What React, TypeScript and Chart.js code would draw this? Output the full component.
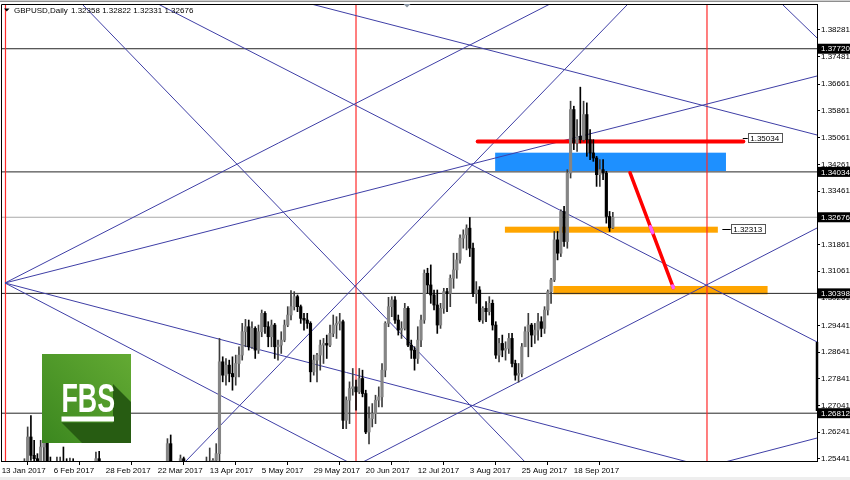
import React, { useEffect, useRef } from 'react';
import { Chart, registerables } from 'chart.js';

Chart.register(...registerables);

const FONT = '"Liberation Sans", Arial, sans-serif';
const symbolLabel = 'GBPUSD,Daily';
const brandLabel = 'FBS';

const xTickIndex = [0, 16, 32, 48, 64, 80, 96, 112, 128, 144, 160, 176];
const xTickLabels = ['13 Jan 2017', '6 Feb 2017', '28 Feb 2017', '22 Mar 2017', '13 Apr 2017', '5 May 2017', '29 May 2017', '20 Jun 2017', '12 Jul 2017', '3 Aug 2017', '25 Aug 2017', '18 Sep 2017'];
const yTickValues = [1.38281, 1.37481, 1.36661, 1.35861, 1.35061, 1.34261, 1.33461, 1.32661, 1.31861, 1.31061, 1.30261, 1.29441, 1.28641, 1.27841, 1.27041, 1.26241, 1.25441];

const priceMin = 1.25381;
const priceMax = 1.39059;
const barMin = -0.2;
const barMax = 250.8;

const opens = [1.2165,1.2080,1.2055,1.2398,1.2340,1.2335,1.2372,1.2455,1.2495,1.2610,1.2555,1.2545,1.2440,1.2580,1.2615,1.2505,1.2475,1.2420,1.2475,1.2530,1.2525,1.2485,1.2530,1.2465,1.2460,1.2505,1.2410,1.2435,1.2460,1.2450,1.2545,1.2475,1.2410,1.2390,1.2290,1.2270,1.2290,1.2240,1.2200,1.2170,1.2160,1.2185,1.2220,1.2130,1.2270,1.2350,1.2400,1.2370,1.2470,1.2480,1.2520,1.2465,1.2590,1.2460,1.2420,1.2460,1.2545,1.2475,1.2420,1.2490,1.2475,1.2400,1.2410,1.2460,1.2530,1.2535,1.2540,1.2560,1.2835,1.2795,1.2825,1.2800,1.2790,1.2830,1.2855,1.2925,1.2940,1.2880,1.2935,1.2870,1.2925,1.2980,1.2940,1.2910,1.2945,1.2880,1.2885,1.2900,1.2945,1.2975,1.3000,1.3030,1.3000,1.2965,1.2960,1.2950,1.2805,1.2840,1.2855,1.2885,1.2890,1.2885,1.2920,1.2945,1.2950,1.2955,1.2660,1.2720,1.2755,1.2760,1.2745,1.2785,1.2740,1.2625,1.2665,1.2680,1.2720,1.2730,1.2810,1.2950,1.3000,1.3020,1.2960,1.2930,1.2935,1.2995,1.2885,1.2870,1.2845,1.2900,1.2960,1.3100,1.3065,1.3035,1.3005,1.2945,1.2995,1.3045,1.3040,1.3085,1.3110,1.3140,1.3205,1.3215,1.3235,1.3175,1.3040,1.3050,1.2960,1.2995,1.2985,1.3010,1.2945,1.2855,1.2890,1.2870,1.2875,1.2905,1.2830,1.2795,1.2800,1.2880,1.2925,1.2945,1.2915,1.2930,1.2955,1.2935,1.2990,1.3045,1.3080,1.3200,1.3160,1.3285,1.3195,1.3400,1.3590,1.3490,1.3510,1.3500,1.3575,1.3500,1.3460,1.3445,1.3395,1.3410,1.3400,1.3270,1.32358];
const highs = [1.2232,1.2110,1.2415,1.2417,1.2370,1.2390,1.2480,1.2545,1.2640,1.2674,1.2600,1.2560,1.2600,1.2640,1.2706,1.2550,1.2495,1.2550,1.2550,1.2580,1.2545,1.2547,1.2545,1.2490,1.2535,1.2515,1.2470,1.2495,1.2490,1.2565,1.2567,1.2490,1.2420,1.2405,1.2315,1.2300,1.2300,1.2260,1.2215,1.2200,1.2200,1.2260,1.2225,1.2280,1.2380,1.2410,1.2410,1.2480,1.2510,1.2530,1.2525,1.2605,1.2616,1.2480,1.2485,1.2556,1.2550,1.2490,1.2510,1.2510,1.2480,1.2430,1.2480,1.2550,1.2577,1.2545,1.2590,1.2905,1.2850,1.2845,1.2840,1.2850,1.2855,1.2880,1.2950,1.2962,1.2960,1.2955,1.2940,1.2945,1.2990,1.2985,1.2955,1.2960,1.2950,1.2900,1.2925,1.2960,1.3000,1.3048,1.3045,1.3035,1.3005,1.2980,1.2980,1.2955,1.2855,1.2860,1.2900,1.2905,1.2915,1.2945,1.2975,1.2970,1.2980,1.2960,1.2730,1.2775,1.2815,1.2780,1.2815,1.2810,1.2750,1.2700,1.2710,1.2735,1.2760,1.2830,1.2955,1.3028,1.3030,1.3030,1.2975,1.2955,1.3010,1.3000,1.2900,1.2880,1.2940,1.2975,1.3110,1.3115,1.3125,1.3050,1.3050,1.3010,1.3055,1.3055,1.3095,1.3160,1.3160,1.3215,1.3230,1.3245,1.3267,1.3190,1.3075,1.3060,1.3000,1.3015,1.3030,1.3020,1.2955,1.2905,1.2915,1.2895,1.2920,1.2920,1.2840,1.2830,1.2890,1.2940,1.2980,1.2950,1.2950,1.2980,1.2970,1.3000,1.3050,1.3085,1.3225,1.3225,1.3290,1.3300,1.3410,1.3615,1.3600,1.3560,1.3657,1.3615,1.3610,1.3530,1.3500,1.3450,1.3440,1.3440,1.3405,1.3285,1.32822];
const lows = [1.2130,1.1986,1.2040,1.2255,1.2250,1.2285,1.2355,1.2390,1.2480,1.2540,1.2490,1.2415,1.2430,1.2520,1.2490,1.2440,1.2380,1.2345,1.2470,1.2480,1.2435,1.2470,1.2425,1.2385,1.2455,1.2385,1.2400,1.2430,1.2410,1.2440,1.2460,1.2380,1.2345,1.2280,1.2250,1.2250,1.2215,1.2180,1.2150,1.2110,1.2130,1.2180,1.2110,1.2110,1.2260,1.2330,1.2340,1.2360,1.2440,1.2460,1.2450,1.2460,1.2430,1.2380,1.2410,1.2460,1.2460,1.2380,1.2410,1.2455,1.2365,1.2375,1.2380,1.2440,1.2490,1.2520,1.2515,1.2515,1.2775,1.2765,1.2775,1.2750,1.2765,1.2790,1.2840,1.2880,1.2870,1.2875,1.2845,1.2860,1.2910,1.2920,1.2880,1.2880,1.2845,1.2840,1.2860,1.2895,1.2940,1.2960,1.2990,1.2985,1.2950,1.2930,1.2935,1.2775,1.2795,1.2775,1.2810,1.2830,1.2845,1.2880,1.2910,1.2905,1.2930,1.2635,1.2635,1.2650,1.2735,1.2690,1.2740,1.2730,1.2620,1.2589,1.2640,1.2650,1.2700,1.2700,1.2790,1.2940,1.2970,1.2950,1.2915,1.2905,1.2930,1.2880,1.2845,1.2810,1.2830,1.2880,1.2950,1.3040,1.3010,1.2990,1.2920,1.2935,1.2980,1.2985,1.3000,1.3055,1.3085,1.3130,1.3175,1.3170,1.3150,1.3030,1.3010,1.2955,1.2950,1.2955,1.2975,1.2930,1.2845,1.2835,1.2850,1.2840,1.2860,1.2820,1.2780,1.2774,1.2790,1.2880,1.2850,1.2880,1.2890,1.2900,1.2910,1.2920,1.2975,1.3010,1.3075,1.3140,1.3150,1.3180,1.3175,1.3385,1.3470,1.3465,1.3490,1.3495,1.3450,1.3440,1.3435,1.3360,1.3360,1.3380,1.3250,1.3225,1.32331];
const closes = [1.2180,1.2055,1.2398,1.2340,1.2335,1.2372,1.2455,1.2495,1.2610,1.2555,1.2545,1.2440,1.2580,1.2615,1.2505,1.2475,1.2420,1.2475,1.2530,1.2525,1.2485,1.2530,1.2465,1.2460,1.2505,1.2410,1.2435,1.2460,1.2450,1.2545,1.2475,1.2410,1.2390,1.2290,1.2270,1.2290,1.2240,1.2200,1.2170,1.2160,1.2185,1.2220,1.2130,1.2270,1.2350,1.2400,1.2370,1.2470,1.2480,1.2520,1.2465,1.2590,1.2460,1.2420,1.2460,1.2545,1.2475,1.2420,1.2490,1.2475,1.2400,1.2410,1.2460,1.2530,1.2535,1.2540,1.2560,1.2835,1.2795,1.2825,1.2800,1.2790,1.2830,1.2855,1.2925,1.2940,1.2880,1.2935,1.2870,1.2925,1.2980,1.2940,1.2910,1.2945,1.2880,1.2885,1.2900,1.2945,1.2975,1.3000,1.3030,1.3000,1.2965,1.2960,1.2950,1.2805,1.2840,1.2855,1.2885,1.2890,1.2885,1.2920,1.2945,1.2950,1.2955,1.2660,1.2720,1.2755,1.2760,1.2745,1.2785,1.2740,1.2625,1.2665,1.2680,1.2720,1.2730,1.2810,1.2950,1.3000,1.3020,1.2960,1.2930,1.2935,1.2995,1.2885,1.2870,1.2845,1.2900,1.2960,1.3100,1.3065,1.3035,1.3005,1.2945,1.2995,1.3045,1.3040,1.3085,1.3110,1.3140,1.3205,1.3215,1.3235,1.3175,1.3040,1.3050,1.2960,1.2995,1.2985,1.3010,1.2945,1.2855,1.2890,1.2870,1.2875,1.2905,1.2830,1.2795,1.2800,1.2880,1.2925,1.2945,1.2915,1.2930,1.2955,1.2935,1.2990,1.3045,1.3080,1.3200,1.3160,1.3285,1.3195,1.3400,1.3590,1.3490,1.3510,1.3500,1.3575,1.3500,1.3460,1.3445,1.3395,1.3410,1.3400,1.3270,1.3236,1.32676];

const levelPrices = [1.3772, 1.34034, 1.30398, 1.26812];

const trendStartX = [24.13, 46.91, 92.82, 1.03, 1.03, 55.81, 239.39, 109.95, 1.03, 1.03, 220.13];
const trendStartP = [1.39119, 1.39119, 1.39119, 1.30709, 1.30709, 1.25291, 1.39119, 1.25291, 1.30709, 1.30709, 1.25291];
const trendEndX = [161.6, 251.42, 251.42, 169.87, 251.42, 193.25, 251.42, 251.42, 213.46, 107.71, 251.42];
const trendEndP = [1.25291, 1.28913, 1.35123, 1.39119, 1.36919, 1.39119, 1.37985, 1.32385, 1.25291, 1.25291, 1.26084];

const separatorX = [1.18, 109.0, 216.96];

const zoneStart = [151.8, 154.8, 169.7];
const zoneEnd = [222.8, 220.3, 235.6];
const zoneHigh = [1.34609, 1.32394, 1.30619];
const zoneLow = [1.34061, 1.32214, 1.3037];
const zoneColors = ['#1e90ff', '#ffa500', '#ffa500'];

const resistanceX = [146.43, 228.14];
const resistanceP = [1.3494, 1.3494];
const projectionX = [193.28, 206.6];
const projectionP = [1.3401, 1.30568];

const labelPrices = [1.35034, 1.32313];
const labelX = [229.49, 224.26];
const leaderX = [228.1, 221.8];

const markerTop = 1.28943;
const markerBottom = 1.26878;

const last = closes.length - 1;

function lineDs(points: any[], color: string, width: number, order: number, extra: any = {}) {
  return {
    type: 'line',
    data: points,
    borderColor: color,
    backgroundColor: color,
    borderWidth: width,
    pointRadius: 0,
    pointHoverRadius: 0,
    tension: 0,
    fill: false,
    clip: 0,
    order,
    ...extra,
  };
}

const overlayPlugin = {
  id: 'mt4overlay',
  beforeDraw(chart: any) {
    const { ctx, width, height } = chart;
    ctx.save();
    ctx.fillStyle = '#ffffff';
    ctx.fillRect(0, 0, width, height);
    ctx.fillStyle = '#cfcfcf';
    ctx.fillRect(0, 0, width, 1);
    ctx.fillStyle = '#8e8e8e';
    ctx.fillRect(0, 1, width, 1);
    ctx.fillStyle = '#eeeeee';
    ctx.fillRect(0, 477, width, 3);
    ctx.restore();
  },
  beforeDatasetsDraw(chart: any) {
    const { ctx, chartArea, scales } = chart;
    const xs = scales.x, ys = scales.y;
    ctx.save();
    ctx.beginPath();
    ctx.rect(chartArea.left, chartArea.top, chartArea.right - chartArea.left, chartArea.bottom - chartArea.top);
    ctx.clip();
    zoneStart.forEach((s, i) => {
      const x1 = xs.getPixelForValue(s);
      const x2 = xs.getPixelForValue(zoneEnd[i]);
      const y1 = ys.getPixelForValue(zoneHigh[i]);
      const y2 = ys.getPixelForValue(zoneLow[i]);
      ctx.fillStyle = zoneColors[i];
      ctx.fillRect(x1, y1, x2 - x1, y2 - y1);
    });
    ctx.restore();
  },
  afterDatasetsDraw(chart: any) {
    const { ctx, chartArea, scales } = chart;
    const xs = scales.x, ys = scales.y;
    ctx.save();
    // pink where the projection line crosses the orange zones
    const p0 = projectionP[0], p1 = projectionP[1];
    const ax = xs.getPixelForValue(projectionX[0]), ay = ys.getPixelForValue(p0);
    const bx = xs.getPixelForValue(projectionX[1]), by = ys.getPixelForValue(p1);
    for (let k = 1; k < zoneStart.length; k++) {
      const ta = (zoneHigh[k] - p0) / (p1 - p0);
      const tb = (zoneLow[k] - p0) / (p1 - p0);
      const t0 = Math.max(0, Math.min(ta, tb));
      const t1 = Math.min(1, Math.max(ta, tb));
      if (t0 < t1) {
        ctx.strokeStyle = '#ff5cff';
        ctx.lineWidth = 3.5;
        ctx.lineCap = 'round';
        ctx.beginPath();
        ctx.moveTo(ax + (bx - ax) * t0, ay + (by - ay) * t0);
        ctx.lineTo(ax + (bx - ax) * t1, ay + (by - ay) * t1);
        ctx.stroke();
      }
    }
    // price labels on chart
    ctx.font = '8px ' + FONT;
    ctx.textBaseline = 'middle';
    ctx.textAlign = 'left';
    labelPrices.forEach((p, i) => {
      const left = xs.getPixelForValue(labelX[i]);
      const lx = xs.getPixelForValue(leaderX[i]);
      const yy = ys.getPixelForValue(p);
      ctx.strokeStyle = '#000';
      ctx.lineWidth = 1;
      ctx.beginPath();
      ctx.moveTo(lx, Math.round(yy) + 0.5);
      ctx.lineTo(left, Math.round(yy) + 0.5);
      ctx.stroke();
      ctx.fillStyle = '#fff';
      ctx.fillRect(left, yy - 5, 35, 10);
      ctx.strokeStyle = '#555';
      ctx.strokeRect(Math.round(left) + 0.5, Math.round(yy - 5) + 0.5, 34, 9);
      ctx.fillStyle = '#000';
      ctx.fillText(p.toFixed(5), left + 2.5, yy + 0.5);
    });
    ctx.restore();
  },
  afterDraw(chart: any) {
    const { ctx, chartArea, scales } = chart;
    const ys = scales.y;
    ctx.save();
    // frame
    ctx.strokeStyle = '#000';
    ctx.lineWidth = 1;
    ctx.beginPath();
    ctx.moveTo(chartArea.left + 0.5, chartArea.bottom);
    ctx.lineTo(chartArea.left + 0.5, chartArea.top + 0.5);
    ctx.lineTo(chartArea.right, chartArea.top + 0.5);
    ctx.stroke();
    // thick marker on price axis
    ctx.lineWidth = 2.5;
    ctx.beginPath();
    ctx.moveTo(chartArea.right, ys.getPixelForValue(markerTop));
    ctx.lineTo(chartArea.right, ys.getPixelForValue(markerBottom));
    ctx.stroke();
    // highlighted price-axis labels
    ctx.font = '8px ' + FONT;
    ctx.textBaseline = 'middle';
    ctx.textAlign = 'left';
    [...levelPrices, closes[last]].forEach((p) => {
      const yy = ys.getPixelForValue(p);
      ctx.fillStyle = '#000';
      ctx.fillRect(chartArea.right, yy - 5, 850 - chartArea.right, 10);
      ctx.fillStyle = '#fff';
      ctx.fillText(p.toFixed(5), chartArea.right + 4, yy + 0.5);
    });
    // title
    ctx.fillStyle = '#000';
    ctx.beginPath();
    ctx.moveTo(4, 8.5);
    ctx.lineTo(9.5, 8.5);
    ctx.lineTo(6.75, 11.5);
    ctx.closePath();
    ctx.fill();
    ctx.fillText(symbolLabel, 14, 10.5);
    ctx.fillText([opens[last], highs[last], lows[last], closes[last]].map((v) => v.toFixed(5)).join(' '), 71, 10.5);
    // chart-shift marker
    ctx.fillStyle = '#8a96a4';
    ctx.beginPath();
    ctx.moveTo(403.5, 4);
    ctx.lineTo(410.5, 4);
    ctx.lineTo(407, 7.5);
    ctx.closePath();
    ctx.fill();
    // logo
    const lx = 42, ly = 354, ls = 89;
    const g = ctx.createLinearGradient(lx, ly + ls, lx + ls, ly);
    g.addColorStop(0, '#3b871f');
    g.addColorStop(1, '#63aa33');
    ctx.fillStyle = g;
    ctx.fillRect(lx, ly, ls, ls);
    ctx.fillStyle = '#275c12';
    ctx.beginPath();
    ctx.moveTo(113, 384);
    ctx.lineTo(131, 402);
    ctx.lineTo(131, 443);
    ctx.lineTo(82, 443);
    ctx.lineTo(61.5, 422.5);
    ctx.lineTo(113, 422.5);
    ctx.closePath();
    ctx.fill();
    ctx.fillStyle = '#ffffff';
    ctx.save();
    ctx.translate(88.3, 411.5);
    ctx.scale(0.67, 1);
    ctx.font = 'bold 40px ' + FONT;
    ctx.textAlign = 'center';
    ctx.textBaseline = 'alphabetic';
    ctx.fillText(brandLabel, 0, 0);
    ctx.restore();
    ctx.fillRect(61.5, 416.5, 52.5, 5);
    ctx.restore();
  },
};

function buildConfig(): any {
  const idx = closes.map((_, i) => i);
  const bull = idx.map((i) => closes[i] >= opens[i]);
  const datasets: any[] = [];
  levelPrices.forEach((p) => {
    datasets.push(lineDs([{ x: barMin - 2, y: p }, { x: barMax + 2, y: p }], '#262626', 1, 10));
  });
  datasets.push(lineDs([{ x: barMin - 2, y: closes[last] }, { x: barMax + 2, y: closes[last] }], '#a9a9a9', 1, 10));
  separatorX.forEach((sx) => {
    datasets.push(lineDs([{ x: sx, y: priceMin - 0.01 }, { x: sx, y: priceMax + 0.01 }], '#ff2a2a', 1.2, 9));
  });
  trendStartX.forEach((sx, i) => {
    datasets.push(lineDs([{ x: sx, y: trendStartP[i] }, { x: trendEndX[i], y: trendEndP[i] }], '#3f3fa6', 1, 8));
  });
  datasets.push(lineDs([{ x: resistanceX[0], y: resistanceP[0] }, { x: resistanceX[1], y: resistanceP[1] }], '#ff0000', 4, 7, { borderCapStyle: 'round' }));
  datasets.push(lineDs([{ x: projectionX[0], y: projectionP[0] }, { x: projectionX[1], y: projectionP[1] }], '#ff0000', 3.5, 7, { borderCapStyle: 'round' }));
  datasets.push({
    type: 'bar',
    data: idx.map((i) => ({ x: i, y: [lows[i], highs[i]] })),
    backgroundColor: idx.map((i) => (bull[i] ? '#3c3c3c' : '#000000')),
    barThickness: 1,
    grouped: false,
    minBarLength: 1,
    clip: 0,
    order: 1,
  });
  datasets.push({
    type: 'bar',
    data: idx.map((i) => ({ x: i, y: [opens[i], closes[i]] })),
    backgroundColor: idx.map((i) => (bull[i] ? '#858585' : '#000000')),
    barThickness: 2.5,
    grouped: false,
    minBarLength: 1,
    clip: 0,
    order: 0,
  });

  return {
    type: 'bar',
    data: { datasets },
    plugins: [overlayPlugin],
    options: {
      animation: false,
      responsive: false,
      devicePixelRatio: 1,
      events: [],
      layout: { padding: { left: 1, top: 4, right: 0, bottom: 0 } },
      plugins: { legend: { display: false }, tooltip: { enabled: false }, title: { display: false } },
      scales: {
        x: {
          type: 'linear',
          min: barMin,
          max: barMax,
          offset: false,
          afterBuildTicks: (s: any) => {
            s.ticks = xTickIndex.map((v) => ({ value: v }));
          },
          afterFit: (s: any) => {
            s.height = 19;
            s.paddingLeft = 0;
            s.paddingRight = 0;
          },
          grid: { display: true, drawOnChartArea: false, drawTicks: true, tickLength: 4, color: '#000', lineWidth: 1 },
          border: { display: true, color: '#000', width: 1 },
          ticks: {
            autoSkip: false,
            maxRotation: 0,
            minRotation: 0,
            align: 'start',
            padding: 1,
            color: '#000',
            font: { size: 8, family: FONT },
            callback: (_v: any, i: number) => xTickLabels[i],
          },
        },
        y: {
          type: 'linear',
          position: 'right',
          min: priceMin,
          max: priceMax,
          afterBuildTicks: (s: any) => {
            s.ticks = yTickValues.map((v) => ({ value: v }));
          },
          afterFit: (s: any) => {
            s.width = 33;
            s.paddingTop = 0;
            s.paddingBottom = 0;
          },
          grid: { display: true, drawOnChartArea: false, drawTicks: true, tickLength: 3, color: '#000', lineWidth: 1 },
          border: { display: true, color: '#000', width: 1 },
          ticks: {
            autoSkip: false,
            padding: 1,
            color: '#000',
            font: { size: 8, family: FONT },
            callback: (v: any) => Number(v).toFixed(5),
          },
        },
      },
    },
  };
}

export default function App() {
  const ref = useRef<HTMLCanvasElement>(null);
  useEffect(() => {
    const canvas = ref.current;
    if (!canvas) return;
    const chart = new Chart(canvas, buildConfig());
    return () => chart.destroy();
  }, []);
  return (
    <div style={{ position: 'fixed', left: 0, top: 0, width: 850, height: 480, background: '#fff' }}>
      <canvas ref={ref} width={850} height={480} style={{ display: 'block', width: 850, height: 480 }} />
    </div>
  );
}
